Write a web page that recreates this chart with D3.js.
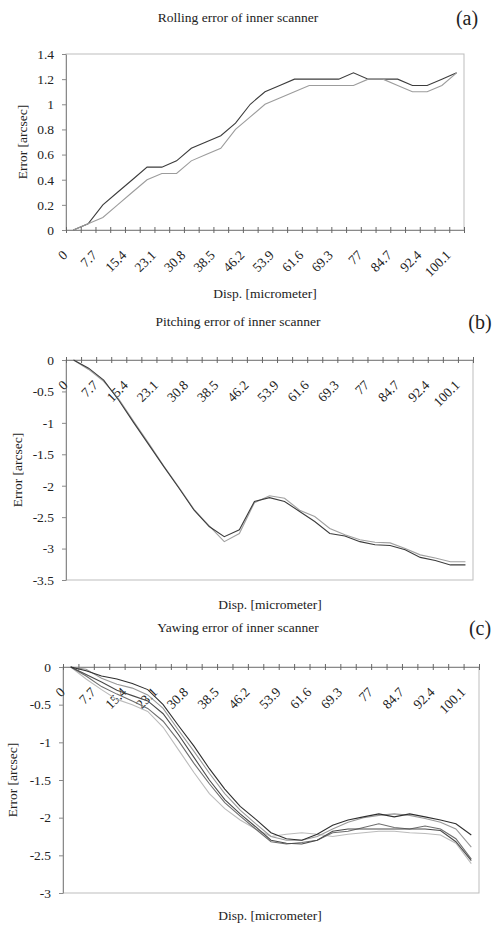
<!DOCTYPE html>
<html>
<head>
<meta charset="utf-8">
<script src="https://cdn.jsdelivr.net/npm/d3@7"></script>
<style>
body{margin:0;background:#fff;}
text{font-family:"Liberation Serif","Times New Roman",serif;fill:#222;}
</style>
</head>
<body>
<div class="chart"></div>
<script>
// categories (disp. in micrometer), every other one is labelled
var cats=["0","3.85","7.7","11.55","15.4","19.25","23.1","26.95","30.8","34.65","38.5","42.35","46.2","50.05","53.9","57.75","61.6","65.45","69.3","73.15","77","80.85","84.7","88.55","92.4","96.25","100.1"];

// (a) rolling
var rollTicks=[0,0.2,0.4,0.6,0.8,1,1.2,1.4];
var rollLabels=["0","0.2","0.4","0.6","0.8","1","1.2","1.4"];
var rollA=[0,0.05,0.2,0.3,0.4,0.5,0.5,0.55,0.65,0.7,0.75,0.85,1.0,1.1,1.15,1.2,1.2,1.2,1.2,1.25,1.2,1.2,1.2,1.15,1.15,1.2,1.25];
var rollB=[0,0.05,0.1,0.2,0.3,0.4,0.45,0.45,0.55,0.6,0.65,0.8,0.9,1.0,1.05,1.1,1.15,1.15,1.15,1.15,1.2,1.2,1.15,1.1,1.1,1.15,1.25];

// (b) pitching
var pitchTicks=[0,-0.5,-1,-1.5,-2,-2.5,-3,-3.5];
var pitchLabels=["0","-0.5","-1","-1.5","-2","-2.5","-3","-3.5"];
var pitchA=[0,-0.13,-0.32,-0.64,-1.0,-1.35,-1.7,-2.04,-2.39,-2.65,-2.81,-2.7,-2.25,-2.19,-2.25,-2.41,-2.57,-2.76,-2.8,-2.89,-2.94,-2.95,-3.02,-3.14,-3.19,-3.26,-3.26];
var pitchB=[0,-0.15,-0.34,-0.62,-0.98,-1.33,-1.69,-2.03,-2.38,-2.64,-2.89,-2.76,-2.27,-2.16,-2.2,-2.39,-2.49,-2.68,-2.78,-2.86,-2.9,-2.91,-3.0,-3.1,-3.15,-3.21,-3.21];

// (c) yawing
var yawTicks=[0,-0.5,-1,-1.5,-2,-2.5,-3];
var yawLabels=["0","-0.5","-1","-1.5","-2","-2.5","-3"];
var yaw1=[0,-0.05,-0.12,-0.16,-0.22,-0.3,-0.5,-0.78,-1.05,-1.35,-1.62,-1.85,-2.02,-2.2,-2.28,-2.3,-2.22,-2.1,-2.03,-1.99,-1.95,-1.99,-1.95,-1.99,-2.03,-2.08,-2.23];
var yaw2=[0,-0.03,-0.15,-0.23,-0.28,-0.37,-0.55,-0.84,-1.12,-1.41,-1.68,-1.9,-2.08,-2.25,-2.3,-2.3,-2.25,-2.15,-2.06,-2.0,-1.97,-1.95,-1.97,-2.01,-2.06,-2.15,-2.39];
var yaw3=[0,-0.1,-0.2,-0.31,-0.38,-0.45,-0.62,-0.9,-1.2,-1.5,-1.76,-1.95,-2.12,-2.3,-2.34,-2.35,-2.3,-2.18,-2.15,-2.15,-2.15,-2.15,-2.15,-2.15,-2.17,-2.32,-2.57];
var yaw4=[0,-0.12,-0.26,-0.36,-0.45,-0.55,-0.72,-0.98,-1.28,-1.55,-1.8,-1.98,-2.15,-2.32,-2.35,-2.33,-2.3,-2.2,-2.18,-2.13,-2.08,-2.13,-2.15,-2.11,-2.15,-2.28,-2.55];
var yaw5=[0,-0.16,-0.3,-0.43,-0.5,-0.59,-0.8,-1.1,-1.4,-1.68,-1.88,-2.03,-2.15,-2.25,-2.22,-2.2,-2.22,-2.25,-2.22,-2.2,-2.18,-2.18,-2.2,-2.21,-2.23,-2.34,-2.61];

var width=495;
var height=925;
var svg=d3.select('div.chart')
		.append('svg')
		.attr('width',width)
		.attr('height',height);

function panel(p){
	var g=svg.append('g');
	var x=d3.scaleBand().domain(cats).range([p.left,p.right]).padding(0);
	var edge=d3.scaleLinear().domain([0,cats.length]).range([p.left,p.right]);
	var y=d3.scaleLinear().domain(p.domain).range([p.bottom,p.top]);
	var bw=x.bandwidth();

	// plot area border
	g.append('rect')
		.attr('x',p.left).attr('y',p.top)
		.attr('width',p.right-p.left).attr('height',p.bottom-p.top)
		.attr('fill','none').attr('stroke','#bdbdbd');

	var ya=g.append('g')
		.attr('transform','translate('+p.left+',0)')
		.call(d3.axisLeft(y)
			.tickValues(p.ticks)
			.tickSize(4)
			.tickSizeOuter(0)
			.tickPadding(8)
			.tickFormat(function(d,i){return p.labels[i];}));
	ya.attr('font-size','13.5px');
	ya.select('.domain').attr('stroke','#8a8a8a');
	ya.selectAll('.tick line').attr('stroke','#8a8a8a');

	// category axis, ticks between categories
	var xa=g.append('g')
		.attr('transform','translate(0,'+y(0)+')')
		.call(d3.axisBottom(edge)
			.tickValues(d3.range(cats.length+1))
			.tickSize(3)
			.tickSizeOuter(0)
			.tickFormat(''));
	xa.select('.domain').attr('stroke','#8a8a8a');
	xa.selectAll('.tick line').attr('y1',-3).attr('stroke','#666');

	g.selectAll('text.xl')
		.data(cats.filter(function(d,i){return i%2==0;}))
		.enter()
		.append('text')
		.attr('class','xl')
		.attr('font-size','13.5px')
		.attr('text-anchor','end')
		.attr('transform',function(d){
			return 'translate('+(x(d)+bw/2-5)+','+(y(0)+26)+') rotate(-45)';
		})
		.text(function(d){return d;});

	var line=d3.line()
		.x(function(d,i){return x(cats[i])+bw/2;})
		.y(function(d){return y(d);});
	p.series.forEach(function(s,k){
		g.append('path')
			.attr('d',line(s))
			.attr('fill','none')
			.attr('stroke',p.colors[k])
			.attr('stroke-width',1.1);
	});

	g.append('text')
		.attr('x',238).attr('y',p.titleY)
		.attr('text-anchor','middle')
		.attr('font-size','13.5px')
		.text(p.title);
	g.append('text')
		.attr('x',p.tagX).attr('y',p.titleY+3)
		.attr('text-anchor','middle')
		.attr('font-size','20px')
		.text(p.tag);
	g.append('text')
		.attr('x',p.xlabX).attr('y',p.xlabY)
		.attr('text-anchor','middle')
		.attr('font-size','13.5px')
		.text('Disp. [micrometer]');
	g.append('text')
		.attr('transform','translate('+p.ylabX+','+((p.top+p.bottom)/2)+') rotate(-90)')
		.attr('text-anchor','middle')
		.attr('font-size','13.5px')
		.text('Error [arcsec]');
}

panel({left:66,right:464,top:54,bottom:230,domain:[0,1.4],ticks:rollTicks,labels:rollLabels,
	series:[rollA,rollB],colors:['#3c3c3c','#9c9c9c'],
	title:'Rolling error of inner scanner',tag:'(a)',titleY:22,tagX:467,xlabX:265,xlabY:298,ylabX:27});
panel({left:66,right:473,top:360,bottom:580,domain:[-3.5,0],ticks:pitchTicks,labels:pitchLabels,
	series:[pitchB,pitchA],colors:['#a0a0a0','#3c3c3c'],
	title:'Pitching error of inner scanner',tag:'(b)',titleY:326,tagX:480,xlabX:270,xlabY:609,ylabX:22});
panel({left:63,right:479,top:667,bottom:893,domain:[-3,0],ticks:yawTicks,labels:yawLabels,
	series:[yaw5,yaw2,yaw4,yaw3,yaw1],colors:['#bbbbbb','#999999','#6e6e6e','#4a4a4a','#2e2e2e'],
	title:'Yawing error of inner scanner',tag:'(c)',titleY:632,tagX:480,xlabX:270,xlabY:920,ylabX:17});
</script>
</body>
</html>
